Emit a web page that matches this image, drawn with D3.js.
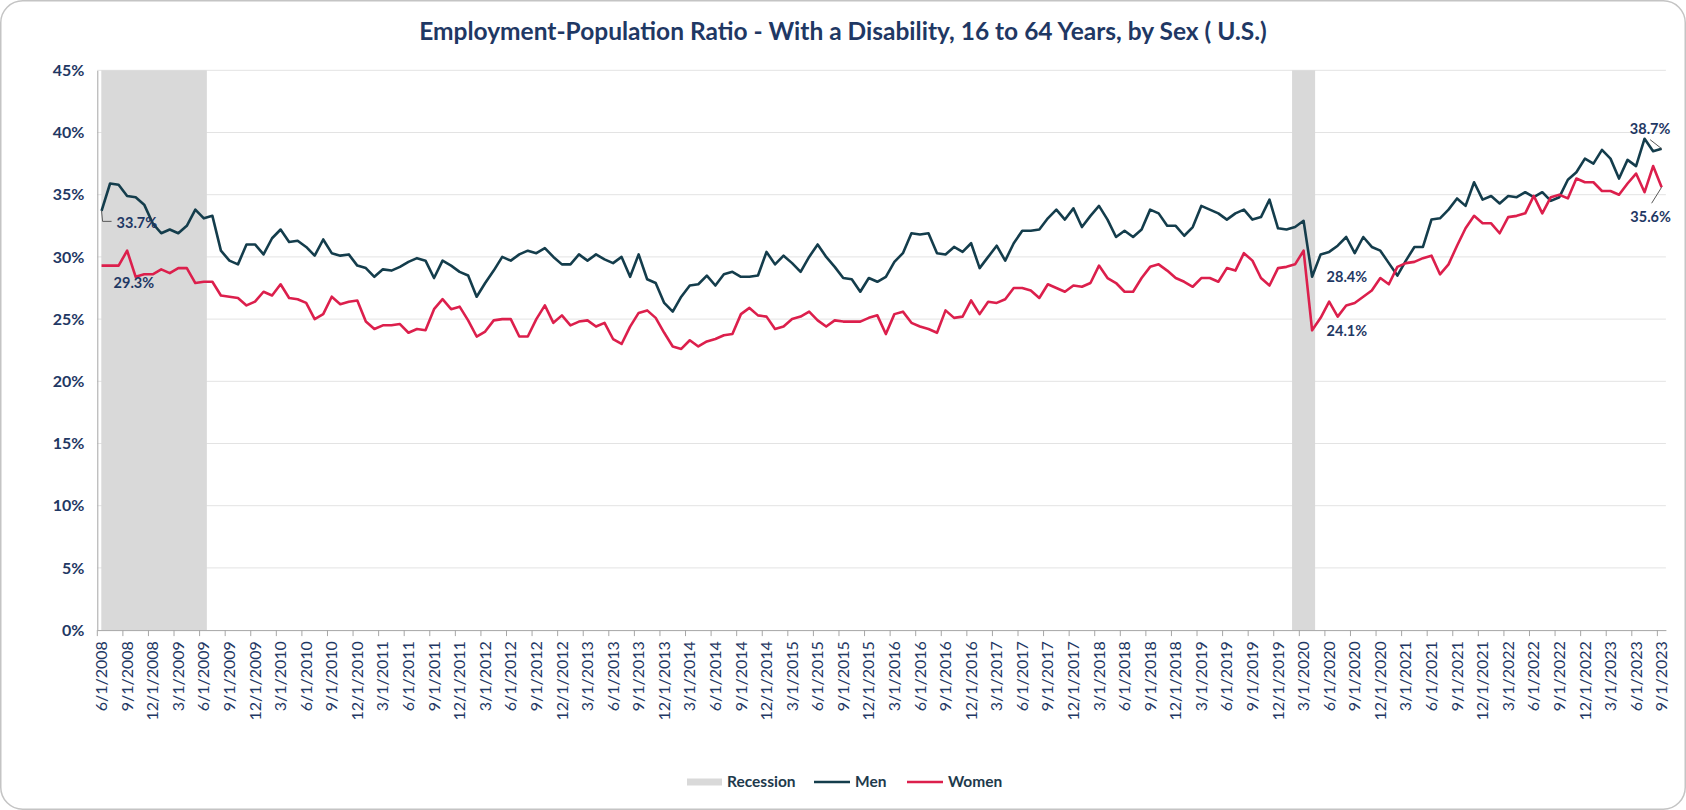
<!DOCTYPE html>
<html><head><meta charset="utf-8">
<script src="https://cdn.jsdelivr.net/npm/d3@7"></script>
<style>
body{margin:0;background:#fff;}
svg{display:block;font-family:Lato,"Open Sans",sans-serif;}
</style>
</head><body>
<svg id="chart" width="1686" height="810"></svg>
<script>
// ---------- DATA ----------
const firstMonth = "2008-06-01";
const lastMonth  = "2023-09-01";
const men = [
33.7,35.9,35.8,34.9,34.8,34.2,32.7,31.9,32.2,31.9,32.5,33.8,33.1,33.3,30.5,29.7,29.4,31.0,31.0,30.2,
31.5,32.2,31.2,31.3,30.8,30.1,31.4,30.3,30.1,30.2,29.3,29.1,28.4,29.0,28.9,29.2,29.6,29.9,29.7,28.3,
29.7,29.3,28.8,28.5,26.8,27.9,28.9,30.0,29.7,30.2,30.5,30.3,30.7,30.0,29.4,29.4,30.2,29.7,30.2,29.8,
29.5,30.0,28.4,30.2,28.2,27.9,26.3,25.6,26.8,27.7,27.8,28.5,27.7,28.6,28.8,28.4,28.4,28.5,30.4,29.4,
30.1,29.5,28.8,30.0,31.0,30.0,29.2,28.3,28.2,27.2,28.3,28.0,28.4,29.6,30.3,31.9,31.8,31.9,30.3,30.2,
30.8,30.4,31.1,29.1,30.0,30.9,29.7,31.1,32.1,32.1,32.2,33.1,33.8,33.0,33.9,32.4,33.3,34.1,33.0,31.6,
32.1,31.6,32.2,33.8,33.5,32.5,32.5,31.7,32.4,34.1,33.8,33.5,33.0,33.5,33.8,33.0,33.2,34.6,32.3,32.2,
32.4,32.9,28.4,30.2,30.4,30.9,31.6,30.3,31.6,30.8,30.5,29.5,28.5,29.7,30.8,30.8,33.0,33.1,33.8,34.7,
34.1,36.0,34.6,34.9,34.3,34.9,34.8,35.2,34.8,35.2,34.5,34.8,36.2,36.8,37.9,37.5,38.6,37.9,36.3,37.8,
37.3,39.5,38.5,38.7];
const women = [
29.3,29.3,29.3,30.5,28.4,28.6,28.6,29.0,28.7,29.1,29.1,27.9,28.0,28.0,26.9,26.8,26.7,26.1,26.4,27.2,
26.9,27.8,26.7,26.6,26.3,25.0,25.4,26.8,26.2,26.4,26.5,24.8,24.2,24.5,24.5,24.6,23.9,24.2,24.1,25.8,
26.6,25.8,26.0,24.9,23.6,24.0,24.9,25.0,25.0,23.6,23.6,25.0,26.1,24.7,25.3,24.5,24.8,24.9,24.4,24.7,
23.4,23.0,24.4,25.5,25.7,25.1,23.9,22.8,22.6,23.3,22.8,23.2,23.4,23.7,23.8,25.4,25.9,25.3,25.2,24.2,
24.4,25.0,25.2,25.6,24.9,24.4,24.9,24.8,24.8,24.8,25.1,25.3,23.8,25.4,25.6,24.7,24.4,24.2,23.9,25.7,
25.1,25.2,26.5,25.4,26.4,26.3,26.6,27.5,27.5,27.3,26.7,27.8,27.5,27.2,27.7,27.6,27.9,29.3,28.3,27.9,
27.2,27.2,28.3,29.2,29.4,28.9,28.3,28.0,27.6,28.3,28.3,28.0,29.1,28.9,30.3,29.7,28.3,27.7,29.1,29.2,
29.4,30.5,24.1,25.1,26.4,25.2,26.1,26.3,26.8,27.3,28.3,27.8,29.2,29.5,29.6,29.9,30.1,28.6,29.4,30.9,
32.3,33.3,32.7,32.7,31.9,33.2,33.3,33.5,34.9,33.5,34.8,35.0,34.7,36.3,36.0,36.0,35.3,35.3,35.0,35.9,
36.7,35.2,37.3,35.6];
const recessions = [["2008-06-01","2009-06-01"],["2020-02-01","2020-04-01"]];
const yTicks = [0,5,10,15,20,25,30,35,40,45];
const tickEveryMonths = 3;
const titleText = "Employment-Population Ratio - With a Disability, 16 to 64 Years, by Sex ( U.S.)";
// labelled points: [series, month]
const labelPoints = [["Men","2008-06-01"],["Women","2008-06-01"],["Men","2020-04-01"],["Women","2020-04-01"],["Men","2023-09-01"],["Women","2023-09-01"]];

// ---------- SETUP ----------
const parse = d3.timeParse("%Y-%m-%d");
const months = d3.timeMonth.range(parse(firstMonth), d3.timeMonth.offset(parse(lastMonth),1));
const keyOf = d3.timeFormat("%Y-%m-%d");
const fmtTick = d => (d.getMonth()+1)+"/"+d.getDate()+"/"+d.getFullYear();
const monthKeys = months.map(keyOf);
const series = {Men: men, Women: women};
const colors = {Men:"#143d4c", Women:"#dc1f4c", Recession:"#d9d9d9"};
const navy = "#1f3864";

const svg = d3.select("#chart");
const M = {left:97.3, right:1665.9, top:70.3, bottom:630.1};

svg.append("rect").attr("x",0.75).attr("y",0.75).attr("width",1684.5).attr("height",808.5)
  .attr("rx",22).attr("fill","#fff").attr("stroke","#c4c4c4").attr("stroke-width",1.5);

const x = d3.scaleBand().domain(monthKeys).range([M.left, M.right]).paddingInner(0).paddingOuter(0);
const bw = x.bandwidth();
const cx = k => x(k) + bw/2;
const y = d3.scaleLinear().domain([0,45]).range([M.bottom, M.top]);

// title
svg.append("text").attr("x",843).attr("y",40).attr("text-anchor","middle")
  .attr("font-size",24.5).attr("font-weight",700).attr("fill",navy).text(titleText);

// gridlines
svg.append("g").selectAll("line").data(yTicks.filter(d=>d>0)).join("line")
  .attr("x1",M.left).attr("x2",M.right).attr("y1",d=>y(d)).attr("y2",d=>y(d))
  .attr("stroke","#e3e3e3").attr("stroke-width",1);

// recession shading
svg.append("g").selectAll("rect").data(recessions).join("rect")
  .attr("x",d=>Math.max(M.left+4, cx(d[0])-3))
  .attr("width",d=>cx(d[1])+3-Math.max(M.left+4, cx(d[0])-3))
  .attr("y",y(45)).attr("height",y(0)-y(45)).attr("fill",colors.Recession);

// y axis
const yAxis = svg.append("g").attr("transform",`translate(${M.left},0)`)
  .call(d3.axisLeft(y).tickValues(yTicks).tickFormat(d=>d+"%").tickSize(0).tickPadding(13));
yAxis.select(".domain").attr("stroke","#a6a6a6");
yAxis.selectAll("text").attr("font-family","Lato, sans-serif").attr("font-size",16)
  .attr("font-weight",700).attr("fill",navy);

// x axis
const tickKeys = monthKeys.filter((k,i)=>i%tickEveryMonths===0);
const xAxis = svg.append("g").attr("transform",`translate(0,${M.bottom})`)
  .call(d3.axisBottom(x).tickValues(tickKeys).tickSize(6).tickSizeOuter(0)
        .tickFormat(k=>fmtTick(parse(k))));
xAxis.select(".domain").attr("stroke","#a6a6a6");
xAxis.selectAll(".tick line").attr("stroke","#a6a6a6").attr("x1",-bw/2).attr("x2",-bw/2);
xAxis.selectAll(".tick text").attr("font-family","Lato, sans-serif").attr("font-size",16)
  .attr("fill",navy).attr("text-anchor","end")
  .attr("transform","rotate(-90)").attr("x",-11).attr("y",0).attr("dy","0.35em");

// lines
const line = d3.line().x((d,i)=>cx(monthKeys[i])).y(d=>y(d));
["Men","Women"].forEach(s=>{
  svg.append("path").datum(series[s]).attr("d",line).attr("fill","none")
    .attr("stroke",colors[s]).attr("stroke-width",2.6).attr("stroke-linejoin","round");
});

// data labels
const labelStyle = {
  "Men|2008-06-01":{dx:15,dy:12,anchor:"start",leader:[[0,0],[1,10.5],[10,10.5]]},
  "Women|2008-06-01":{dx:12,dy:17,anchor:"start"},
  "Men|2020-04-01":{dx:14.5,dy:0,anchor:"start"},
  "Women|2020-04-01":{dx:14.5,dy:0.5,anchor:"start"},
  "Men|2023-09-01":{dx:-11.5,dy:-20,anchor:"middle",leader:[[0,0],[-11.5,-9]]},
  "Women|2023-09-01":{dx:-11,dy:29.5,anchor:"middle",leader:[[0,0],[-10,16]]}
};
const lg = svg.append("g");
labelPoints.forEach(([s,k])=>{
  const v = series[s][monthKeys.indexOf(k)];
  const px = cx(k), py = y(v);
  const st = labelStyle[s+"|"+k];
  if (st.leader) {
    lg.append("path").attr("d",d3.line()(st.leader.map(p=>[px+p[0],py+p[1]])))
      .attr("fill","none").attr("stroke","#595959").attr("stroke-width",1);
  }
  lg.append("text").attr("x",px+st.dx).attr("y",py+st.dy).attr("dy","0.35em")
    .attr("text-anchor",st.anchor).attr("font-size",14.5).attr("font-weight",700)
    .attr("fill",navy).text(v.toFixed(1)+"%");
});

// legend
const legendItems = [
  {name:"Recession", type:"rect", x0:687},
  {name:"Men", type:"line", x0:814},
  {name:"Women", type:"line", x0:907}
];
const leg = svg.append("g");
legendItems.forEach(it=>{
  if (it.type==="rect") leg.append("rect").attr("x",it.x0).attr("y",778.5).attr("width",35).attr("height",7).attr("fill",colors.Recession);
  else leg.append("line").attr("x1",it.x0).attr("x2",it.x0+36).attr("y1",782).attr("y2",782)
        .attr("stroke",colors[it.name]).attr("stroke-width",2.6);
  leg.append("text").attr("x",it.x0+(it.type==="rect"?40:41)).attr("y",782).attr("dy","0.35em")
    .attr("font-size",15.5).attr("font-weight",700).attr("fill","#1e3a4c").text(it.name);
});
</script>
</body></html>
